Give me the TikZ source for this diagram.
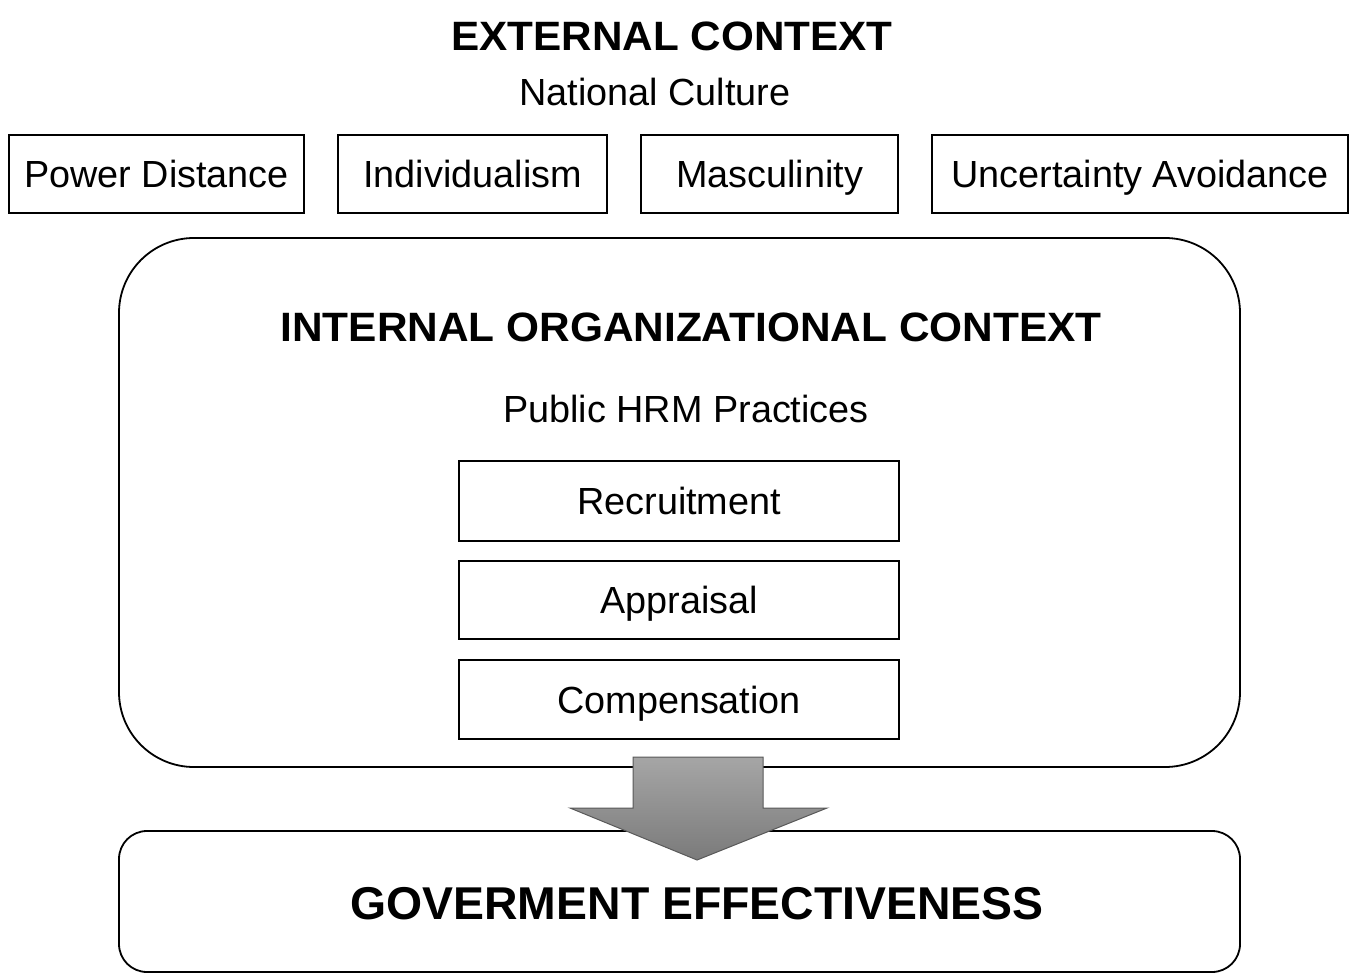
\documentclass[tikz,border=0pt]{standalone}
\usepackage{fontspec}
\setmainfont{Liberation Sans}
\usetikzlibrary{shapes.geometric}
\begin{document}
\begin{tikzpicture}[x=1pt,y=-1pt,
  box/.style={draw,line width=2.2pt,inner sep=0pt,anchor=north west},
  txt/.style={font=\fontsize{37.8}{40}\selectfont,inner sep=0pt,text height=27.2pt,text depth=0pt},
  ttl/.style={font=\fontsize{41}{44}\selectfont\bfseries,inner sep=0pt,text height=29.5pt,text depth=0pt}]
\useasboundingbox (0,0) rectangle (1349,974);
% title
\node[ttl] (ext) at (672,36) {\scalebox{1.03}[1]{EXTERNAL CONTEXT}};
\node[txt] (nat) at (655,92) {National Culture};
% culture boxes
\node[box,minimum width=295pt,minimum height=78pt] (pd) at (8,134) {};
\node[txt] at (pd.center) {Power Distance};
\node[box,minimum width=269pt,minimum height=78pt] (ind) at (337,134) {};
\node[txt] at (ind.center) {Individualism};
\node[box,minimum width=257pt,minimum height=78pt] (mas) at (640,134) {};
\node[txt] at (mas.center) {Masculinity};
\node[box,minimum width=416pt,minimum height=78pt] (ua) at (931,134) {};
\node[txt] at (ua.center) {Uncertainty Avoidance};
% internal context
\draw[line width=1.8pt,rounded corners=75pt] (119,238) rectangle (1240,767);
\node[ttl] (int) at (691,327) {\scalebox{1.034}[1]{INTERNAL ORGANIZATIONAL CONTEXT}};
\node[txt] (hrm) at (686,409) {Public HRM Practices};
\node[box,minimum width=440pt,minimum height=80pt] (rec) at (458,460) {};
\node[txt] at (rec.center) {Recruitment};
\node[box,minimum width=440pt,minimum height=78pt] (app) at (458,560) {};
\node[txt] at (app.center) {Appraisal};
\node[box,minimum width=440pt,minimum height=79pt] (comp) at (458,659) {};
\node[txt] at (comp.center) {Compensation};
% bottom
\draw[line width=1.8pt,rounded corners=28pt] (119,831) rectangle (1240,972);
\node[font=\fontsize{46}{50}\selectfont\bfseries,inner sep=0pt,text height=33pt,text depth=0pt] (gov) at (697,903) {\scalebox{1.008}[1]{GOVERMENT EFFECTIVENESS}};
% arrow
\shade[top color=black!35,bottom color=black!52,draw=black!65,line width=1pt]
  (633,757) -- (763,757) -- (763,808) -- (827,808) -- (697,860) -- (570,808) -- (633,808) -- cycle;
\end{tikzpicture}
\end{document}
